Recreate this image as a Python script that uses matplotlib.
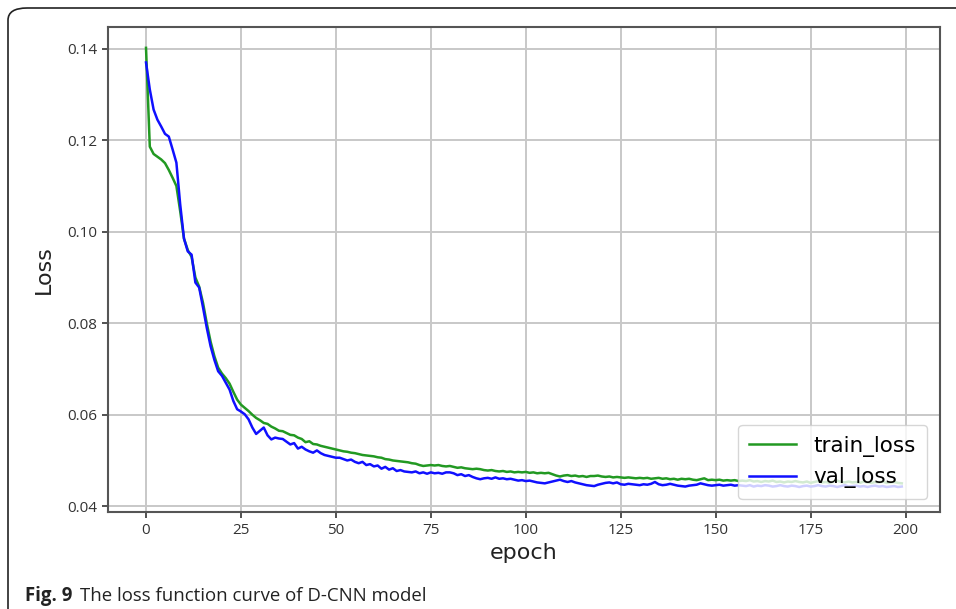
import numpy as np
import matplotlib
matplotlib.use('Agg')
import matplotlib.pyplot as plt
from matplotlib.patches import FancyBboxPatch

# loss values, one per epoch
train_loss = [
    0.1402, 0.1186, 0.1170, 0.1164, 0.1158, 0.1150, 0.1135, 0.1118, 0.1100, 0.1045,
    0.0985, 0.0960, 0.0945, 0.0900, 0.0880, 0.0845, 0.0800, 0.0760, 0.0728, 0.0703,
    0.0690, 0.0680, 0.0668, 0.0650, 0.0633, 0.0622, 0.0615, 0.0608, 0.0600, 0.0593,
    0.0588, 0.0582, 0.0580, 0.0574, 0.0570, 0.0565, 0.0564, 0.0560, 0.0556, 0.0555,
    0.0550, 0.0547, 0.0540, 0.0542, 0.0536, 0.0535, 0.0532, 0.0530, 0.0528, 0.0526,
    0.0524, 0.0522, 0.0520, 0.0519, 0.0517, 0.0516, 0.0514, 0.0512, 0.0511, 0.0510,
    0.0509, 0.0507, 0.0506, 0.0503, 0.0502, 0.0500, 0.0499, 0.0498, 0.0497, 0.0496,
    0.0494, 0.0493, 0.0490, 0.0488, 0.0489, 0.0490, 0.0489, 0.0490, 0.0488, 0.0487,
    0.0488, 0.0486, 0.0484, 0.0485, 0.0483, 0.0482, 0.0481, 0.0482, 0.0481, 0.0479,
    0.0478, 0.0479, 0.0477, 0.0476, 0.0477, 0.0475, 0.0476, 0.0474, 0.0475, 0.0474,
    0.0475, 0.0473, 0.0474, 0.0472, 0.0473, 0.0472, 0.0473, 0.0470, 0.0467, 0.0465,
    0.0467, 0.0468, 0.0466, 0.0467, 0.0465, 0.0466, 0.0464, 0.0466, 0.0466, 0.0467,
    0.0465, 0.0464, 0.0465, 0.0463, 0.0464, 0.0463, 0.0462, 0.0463, 0.0462, 0.0461,
    0.0462, 0.0461, 0.0462, 0.0460, 0.0461, 0.0462, 0.0460, 0.0461, 0.0459, 0.0460,
    0.0458, 0.0460, 0.0459, 0.0460, 0.0458, 0.0457, 0.0459, 0.0461, 0.0457, 0.0458,
    0.0457, 0.0458, 0.0456, 0.0457, 0.0456, 0.0457, 0.0455, 0.0456, 0.0455, 0.0457,
    0.0454, 0.0455, 0.0453, 0.0455, 0.0454, 0.0456, 0.0453, 0.0454, 0.0452, 0.0454,
    0.0453, 0.0455, 0.0453, 0.0452, 0.0454, 0.0451, 0.0453, 0.0455, 0.0452, 0.0453,
    0.0451, 0.0454, 0.0456, 0.0453, 0.0452, 0.0454, 0.0452, 0.0453, 0.0451, 0.0454,
    0.0452, 0.0451, 0.0453, 0.0452, 0.0454, 0.0451, 0.0452, 0.0453, 0.0451, 0.0450,
]

val_loss = [
    0.1370, 0.1311, 0.1267, 0.1245, 0.1230, 0.1214, 0.1208, 0.1180, 0.1151, 0.1060,
    0.0985, 0.0957, 0.0950, 0.0889, 0.0878, 0.0835, 0.0790, 0.0750, 0.0720, 0.0695,
    0.0685, 0.0670, 0.0655, 0.0630, 0.0612, 0.0607, 0.0601, 0.0590, 0.0572, 0.0558,
    0.0565, 0.0572, 0.0555, 0.0546, 0.0550, 0.0548, 0.0547, 0.0541, 0.0535, 0.0538,
    0.0526, 0.0530, 0.0524, 0.0520, 0.0517, 0.0522, 0.0516, 0.0512, 0.0510, 0.0508,
    0.0506, 0.0506, 0.0503, 0.0500, 0.0502, 0.0497, 0.0494, 0.0497, 0.0490, 0.0492,
    0.0487, 0.0489, 0.0482, 0.0486, 0.0480, 0.0483, 0.0477, 0.0479, 0.0476, 0.0475,
    0.0474, 0.0476, 0.0472, 0.0474, 0.0471, 0.0474, 0.0472, 0.0473, 0.0471, 0.0474,
    0.0474, 0.0472, 0.0468, 0.0470, 0.0466, 0.0468, 0.0464, 0.0461, 0.0459, 0.0461,
    0.0462, 0.0460, 0.0463, 0.0460, 0.0461, 0.0459, 0.0460, 0.0458, 0.0456, 0.0457,
    0.0455, 0.0456, 0.0454, 0.0452, 0.0451, 0.0450, 0.0452, 0.0454, 0.0456, 0.0458,
    0.0455, 0.0453, 0.0455, 0.0452, 0.0450, 0.0448, 0.0446, 0.0445, 0.0444, 0.0447,
    0.0449, 0.0451, 0.0452, 0.0450, 0.0452, 0.0448, 0.0447, 0.0449, 0.0448, 0.0447,
    0.0446, 0.0448, 0.0447, 0.0449, 0.0453, 0.0448, 0.0446, 0.0447, 0.0449, 0.0447,
    0.0445, 0.0444, 0.0443, 0.0445, 0.0446, 0.0447, 0.0450, 0.0448, 0.0446, 0.0445,
    0.0446, 0.0447, 0.0445, 0.0446, 0.0447, 0.0445, 0.0446, 0.0445, 0.0444, 0.0446,
    0.0443, 0.0445, 0.0444, 0.0446, 0.0445, 0.0443, 0.0444, 0.0446, 0.0444, 0.0443,
    0.0445, 0.0444, 0.0442, 0.0444, 0.0445, 0.0443, 0.0444, 0.0446, 0.0444, 0.0443,
    0.0445, 0.0444, 0.0442, 0.0444, 0.0446, 0.0443, 0.0444, 0.0445, 0.0443, 0.0444,
    0.0442, 0.0444, 0.0445, 0.0443, 0.0444, 0.0442, 0.0443, 0.0444, 0.0442, 0.0443,
]

epochs = np.arange(len(train_loss))
xticks = [0, 25, 50, 75, 100, 125, 150, 175, 200]
yticks = [0.04, 0.06, 0.08, 0.10, 0.12, 0.14]
caption_bold = 'Fig. 9'
caption_text = 'The loss function curve of D-CNN model'

fig = plt.figure(figsize=(9.56, 6.09), dpi=100)
ax = fig.add_axes([0.113, 0.159, 0.870, 0.797])

ax.plot(epochs, train_loss, color='#229922', lw=1.8, label='train_loss')
ax.plot(epochs, val_loss, color='#1010ff', lw=1.8, label='val_loss')

ax.set_xlim(-10, 209)
ax.set_ylim(0.0387, 0.1448)
ax.set_xticks(xticks)
ax.set_yticks(yticks)
ax.set_yticklabels(['%.2f' % v for v in yticks])
ax.grid(True, color='#c8c8c8', lw=1.4)
ax.set_axisbelow(True)
for s in ax.spines.values():
    s.set_color('#555555')
    s.set_linewidth(1.5)
ax.tick_params(colors='#333333', labelsize=11, length=4, width=1.2)
for lab in ax.get_xticklabels() + ax.get_yticklabels():
    lab.set_family('Open Sans')

ax.set_xlabel('epoch', fontsize=16, color='#222222', labelpad=4)
ax.set_ylabel('Loss', fontsize=16, color='#222222', labelpad=10)

ax.legend(loc='lower right', fontsize=15.5, handlelength=2.2, borderaxespad=0.6,
          borderpad=0.5)

# outer frame of the figure panel
frame = FancyBboxPatch((8 / 956, -0.05), 1.05, 1 - 8 / 609 + 0.05,
                       boxstyle='round,pad=0,rounding_size=0.02',
                       transform=fig.transFigure, fill=False,
                       ec='#222222', lw=1.2, clip_on=False)
fig.patches.append(frame)

t = fig.text(25 / 956, 1 - 601 / 609, caption_bold, fontsize=13.4, weight='bold',
             family='Open Sans', color='#222222')
fig.canvas.draw()
bb = t.get_window_extent()
fig.text((bb.x1 + 8) / 956, 1 - 601 / 609, caption_text, fontsize=13.4,
         family='Open Sans', color='#222222')

fig.savefig('out.png', dpi=100)
